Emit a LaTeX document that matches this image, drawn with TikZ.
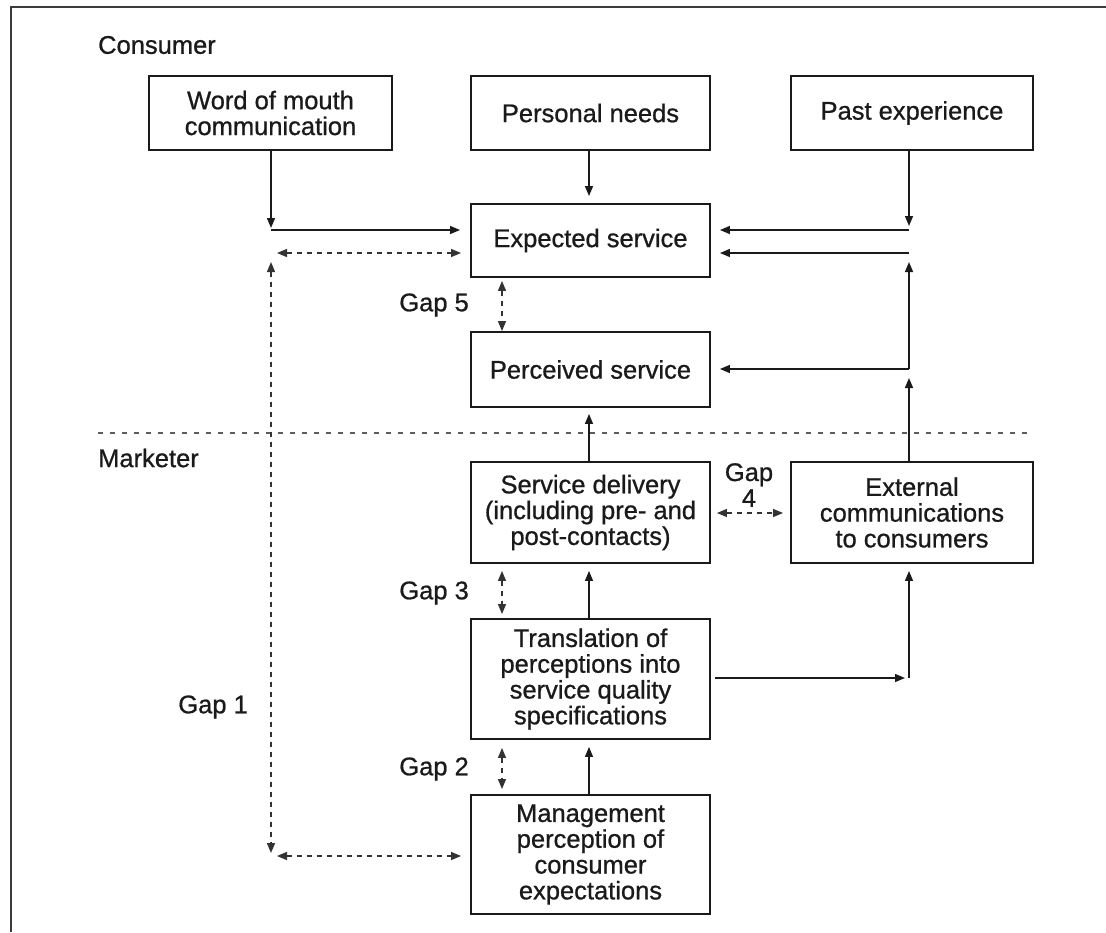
\documentclass[tikz,border=0pt]{standalone}
\usepackage{fontspec}
\setmainfont{Liberation Sans}[RawFeature={embolden=0.8}]
\usetikzlibrary{arrows.meta}
\definecolor{ink}{HTML}{1A1A1A}
\definecolor{dash}{HTML}{333333}
\begin{document}
\begin{tikzpicture}[x=1pt,y=-1pt,
  every node/.style={font=\fontsize{25.5}{25.8}\selectfont, text=ink, inner sep=0pt, align=center},
  box/.style={draw=ink, line width=1.9pt, rectangle},
  lab/.style={anchor=west},
  gaplab/.style={anchor=east},
  arr/.style={draw=ink, line width=1.4pt, -{Triangle[length=10pt,width=8pt]}},
  gaparr/.style={draw=dash, line width=1.4pt, dash pattern=on 5pt off 5pt, {Triangle[length=10pt,width=8pt]}-{Triangle[length=10pt,width=8pt]}},
  sepline/.style={draw=dash!80, line width=1.4pt, dash pattern=on 5pt off 7pt},
  frameline/.style={draw=ink!85, line width=2.6pt}
]
\useasboundingbox (0,0) rectangle (1106,932);
\fill[white] (0,0) rectangle (1106,932);

% frame
\coordinate (fb) at (11,932);
\coordinate (fc) at (11,7);
\coordinate (fr) at (1106,7);
\draw[frameline] (fb) -- (fc) -- (fr);

% labels
\node[lab] (consumer) at (98,45) {Consumer};
\node[lab] (marketer) at (98,458) {Marketer};

% boxes
\node[box, minimum width=243pt, minimum height=74pt] (wom) at (270.5,113) {Word of mouth\\communication};
\node[box, minimum width=239pt, minimum height=74pt] (pn) at (590.5,113) {Personal needs};
\node[box, minimum width=242pt, minimum height=74pt] (past) at (912,113) {Past experience};
\node[box, minimum width=239pt, minimum height=73pt] (exp) at (590.5,240.5) {Expected service};
\node[box, minimum width=239pt, minimum height=75pt] (perc) at (590.5,369.5) {Perceived service};
\node[box, minimum width=239pt, minimum height=101pt] (sd) at (590.5,512.5) {Service delivery\\(including pre- and\\post-contacts)};
\node[box, minimum width=242pt, minimum height=101pt] (ext) at (912,512.5) {External\\communications\\to consumers};
\node[box, minimum width=239pt, minimum height=120pt] (tr) at (590.5,679) {Translation of\\perceptions into\\service quality\\specifications};
\node[box, minimum width=239pt, minimum height=119pt] (mg) at (590.5,854.5) {Management\\perception of\\consumer\\expectations};

% gap labels
\node[gaplab] (g5) at (469,305) {Gap 5};
\node[gaplab] (g3) at (469,593) {Gap 3};
\node[gaplab] (g2) at (469,769) {Gap 2};
\node[gaplab] (g1) at (248,707) {Gap 1};
\node (g4) at (749,485) {Gap\\4};

% separator
\coordinate (sepL) at (98,433);
\coordinate (sepR) at (1033,433);
\draw[sepline] (sepL) -- (sepR);

% consumer-side solid arrows
\coordinate (wk) at (271,230);
\draw[arr, shorten >=2pt] (wom.south -| wk) -- (wk);
\draw[arr, shorten >=10pt] (wk) -- (wk -| exp.west);
\draw[arr, shorten >=7pt] (pn.south -| 589,0) -- (exp.north -| 589,0);

\coordinate (pk) at (909,230);
\coordinate (rk1) at (909,253);
\coordinate (rk2) at (909,369);
\coordinate (tk) at (909,678);
\draw[arr, shorten >=4pt] (past.south -| pk) -- (pk);
\draw[arr, shorten >=9pt] (pk) -- (pk -| exp.east);
\draw[arr, shorten >=9pt] (rk1) -- (rk1 -| exp.east);
\draw[arr, shorten >=9pt] (rk2) -- (rk1);
\draw[arr, shorten >=9pt] (rk2) -- (rk2 -| perc.east);
\draw[arr, shorten >=9pt] (ext.north -| rk2) -- (rk2);
\draw[arr, shorten <=4pt, shorten >=4pt] (tr.east |- tk) -- (tk);
\draw[arr, shorten >=7pt] (tk) -- (tk |- ext.south);

% marketer-side solid arrows
\draw[arr, shorten >=6pt] (sd.north -| 589,0) -- (perc.south -| 589,0);
\draw[arr, shorten >=7pt] (tr.north -| 589,0) -- (sd.south -| 589,0);
\draw[arr, shorten >=7pt] (mg.north -| 589,0) -- (tr.south -| 589,0);

% gap arrows
\coordinate (gx) at (502,0);
\draw[gaparr, shorten <=3pt] (exp.south -| gx) -- (perc.north -| gx);
\draw[gaparr, shorten <=7pt, shorten >=4pt] (sd.south -| gx) -- (tr.north -| gx);
\draw[gaparr, shorten <=8pt, shorten >=5pt] (tr.south -| gx) -- (mg.north -| gx);
\coordinate (g4y) at (0,513);
\draw[gaparr, shorten <=6pt, shorten >=7pt] (sd.east |- g4y) -- (ext.west |- g4y);

\coordinate (g1a) at (271,253);
\coordinate (g1b) at (271,856);
\draw[gaparr, shorten <=6pt, shorten >=9pt] (g1a) -- (g1a -| exp.west);
\draw[gaparr, shorten <=9pt, shorten >=3pt] (g1a) -- (g1b);
\draw[gaparr, shorten <=6pt, shorten >=9pt] (g1b) -- (g1b -| mg.west);
\end{tikzpicture}
\end{document}
